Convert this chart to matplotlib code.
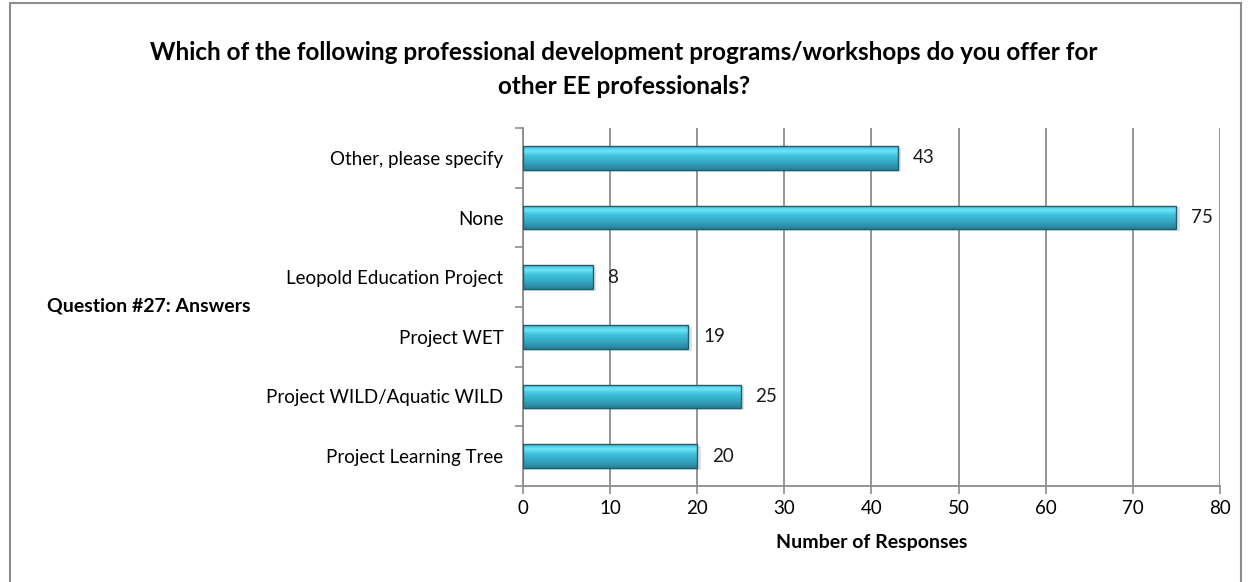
import matplotlib
matplotlib.use("Agg")
import matplotlib.pyplot as plt
import numpy as np
from matplotlib.colors import LinearSegmentedColormap
from matplotlib.patches import Rectangle

categories = ["Project Learning Tree", "Project WILD/Aquatic WILD", "Project WET",
              "Leopold Education Project", "None", "Other, please specify"]
values = [20, 25, 19, 8, 75, 43]
xticks = [0, 10, 20, 30, 40, 50, 60, 70, 80]

plt.rcParams['font.family'] = ['Lato', 'DejaVu Sans']

fig = plt.figure(figsize=(12.48, 5.82), dpi=100)
ax = fig.add_axes([0.419, 0.165, 0.5585, 0.615])

# outer frame
fig.patches.append(Rectangle((10/1248, -0.05), 1231/1248, 1.05 - 3/582, transform=fig.transFigure,
                             fill=False, edgecolor='#8c8c8c', linewidth=1.5, zorder=0))

y = np.arange(len(categories))
bars = ax.barh(y, values, height=0.4, color='none', edgecolor='#1d5f70', linewidth=1.0, zorder=3)

cmap = LinearSegmentedColormap.from_list('bar', [
    (0.0, '#2a7f96'), (0.25, '#33a0ba'), (0.6, '#3fc3de'), (0.8, '#6fe3f5'), (0.9, '#52d4ec'), (1.0, '#35b4d0')])
grad = np.linspace(0, 1, 64).reshape(-1, 1)
for b in bars:
    x0, y0, w, h = b.get_x(), b.get_y(), b.get_width(), b.get_height()
    # shadow
    ax.add_patch(Rectangle((x0, y0 - 0.03), w + 0.4, h, facecolor='#000000', alpha=0.12,
                           edgecolor='none', zorder=2))
    im = ax.imshow(grad, cmap=cmap, aspect='auto', origin='lower',
                   extent=(x0, x0 + w, y0, y0 + h), zorder=2.5, interpolation='bilinear')
    im.set_clip_path(b)

for yi, v in zip(y, values):
    ax.text(v + 1.7, yi, str(v), va='center', ha='left', fontsize=13.5, color='#1a1a1a')

ax.set_xlim(0, 80)
ax.set_ylim(-0.5, len(categories) - 0.5)
ax.set_xticks(xticks)
ax.set_xticklabels([str(t) for t in xticks], fontsize=13.5)
ax.set_yticks(y)
ax.set_yticklabels(categories, fontsize=13.5)
ax.tick_params(axis='y', length=0, pad=14)
ax.set_yticks(np.arange(-0.5, len(categories), 1), minor=True)
ax.tick_params(axis='y', which='minor', length=6, color='#8c8c8c', width=1.2)
ax.tick_params(axis='x', length=6, color='#8c8c8c', width=1.2, pad=4)

ax.grid(axis='x', color='#8c8c8c', linewidth=1.3, zorder=0)
ax.set_axisbelow(True)
for s in ['top', 'right']:
    ax.spines[s].set_visible(False)
for s in ['left', 'bottom']:
    ax.spines[s].set_color('#8c8c8c')
    ax.spines[s].set_linewidth(1.3)

ax.set_xlabel("Number of Responses", fontsize=14, fontweight='bold', labelpad=12)
fig.text(47/1248, 1 - 306/582, "Question #27: Answers", fontsize=14, fontweight='bold',
         ha='left', va='center')

fig.text(0.5, 1 - 53/582, "Which of the following professional development programs/workshops do you offer for",
         fontsize=17.5, fontweight='bold', ha='center', va='center')
fig.text(0.5, 1 - 87/582, "other EE professionals?",
         fontsize=17.5, fontweight='bold', ha='center', va='center')

fig.savefig("out.png", dpi=100)
